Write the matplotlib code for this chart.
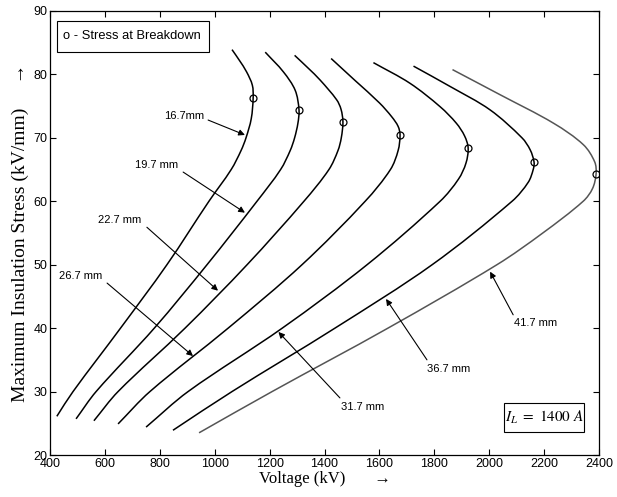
import numpy as np
import matplotlib
matplotlib.use('Agg')
import matplotlib.pyplot as plt
from matplotlib.path import Path
from matplotlib.patches import PathPatch, Rectangle

plt.rcParams['font.family'] = ['Liberation Sans', 'DejaVu Sans']
plt.rcParams['mathtext.fontset'] = 'stix'

# gap widths of the seven curves
gaps = ['16.7mm', '19.7 mm', '22.7 mm', '26.7 mm', '31.7 mm', '36.7 mm', '41.7 mm']

# voltage (kV) / max stress (kV/mm) along each curve, bottom to top
v1 = [425, 484, 657, 826, 979, 1060, 1096, 1114, 1133, 1140, 1137, 1116, 1090, 1063]
s1 = [26.1, 30, 40, 50, 60, 65, 68, 70, 73, 76.3, 78.3, 80.4, 82.2, 83.9]

v2 = [495, 568, 780, 972, 1154, 1240, 1275, 1291, 1303, 1307, 1293, 1250, 1184]
s2 = [25.7, 30, 40, 50, 60, 65, 68, 70, 72.3, 74.4, 77.5, 80.4, 83.5]

v3 = [560, 648, 892, 1118, 1325, 1416, 1449, 1461, 1467, 1460, 1444, 1384, 1340, 1291]
s3 = [25.4, 30, 40, 50, 60, 65, 68, 70, 72.5, 74.5, 76.0, 79.1, 81.0, 83.0]

v4 = [648, 764, 1049, 1318, 1548, 1640, 1668, 1675, 1668, 1645, 1600, 1512, 1424]
s4 = [24.9, 30, 40, 50, 60, 65, 68, 70.45, 71.8, 73.3, 75.5, 79.0, 82.5]

v5 = [750, 903, 1246, 1555, 1821, 1888, 1915, 1923, 1910, 1880, 1821, 1711, 1578]
s5 = [24.4, 30, 40, 50, 60, 63.5, 66, 68.4, 70.3, 72.3, 74.9, 78.6, 81.85]

v6 = [848, 1063, 1438, 1792, 2083, 2142, 2160, 2163, 2149, 2119, 2003, 1857, 1724]
s6 = [23.9, 30, 40, 50, 60, 63, 65, 66.2, 68.1, 70, 74.4, 78.1, 81.3]

v7 = [943, 1209, 1631, 2028, 2195, 2342, 2376, 2389, 2384, 2343, 2234, 2039, 1866]
s7 = [23.5, 30, 40, 50, 55, 60, 62, 64.3, 66.2, 68.9, 72.3, 76.8, 80.75]

# stress at breakdown
bd_v = [1140, 1307, 1467, 1675, 1923, 2163, 2389]
bd_s = [76.3, 74.4, 72.5, 70.45, 68.4, 66.2, 64.3]

# label text position, arrow tail, arrow tip
label_xy = [(890, 73.4), (790, 65.7), (655, 57.0), (510, 48.2),
            (1540, 27.6), (1853, 33.6), (2170, 40.8)]
tail_xy = [(976, 72.8), (885, 64.6), (753, 55.9), (608, 47.1),
           (1456, 29.0), (1773, 35.0), (2087, 42.1)]
tip_xy = [(1110, 70.45), (1110, 58.2), (1012, 45.9), (921, 35.6),
          (1232, 39.4), (1624, 44.6), (2003, 48.9)]

volts = [v1, v2, v3, v4, v5, v6, v7]
stress = [s1, s2, s3, s4, s5, s6, s7]
colors = ['black'] * 6 + ['#555555']

# rough pixels per data unit, so the spline spacing follows the drawn shape
SX, SY = 0.2745, 6.343


def smooth_path(xs, ys):
    # chord-length Hermite spline through the points, as cubic Bezier pieces
    p = np.column_stack([np.asarray(xs) * SX, np.asarray(ys) * SY]).astype(float)
    n = len(p)
    d = np.linalg.norm(np.diff(p, axis=0), axis=1)
    t = np.zeros_like(p)
    t[0] = (p[1] - p[0]) / d[0]
    t[-1] = (p[-1] - p[-2]) / d[-1]
    for i in range(1, n - 1):
        t[i] = (p[i + 1] - p[i - 1]) / (d[i - 1] + d[i])
    verts = [p[0]]
    codes = [Path.MOVETO]
    for i in range(n - 1):
        verts += [p[i] + t[i] * d[i] / 3, p[i + 1] - t[i + 1] * d[i] / 3, p[i + 1]]
        codes += [Path.CURVE4] * 3
    verts = np.array(verts) / [SX, SY]
    return Path(verts, codes)


fig = plt.figure(figsize=(6.17, 4.97), dpi=100)
ax = fig.add_axes([0.081, 0.0845, 0.890, 0.8935])

for v, s, c in zip(volts, stress, colors):
    ax.add_patch(PathPatch(smooth_path(v, s), fill=False, ec=c, lw=1.1))

ax.plot(bd_v, bd_s, 'o', mfc='none', mec='black', ms=5, mew=0.9)

for name, lxy, txy, pxy in zip(gaps, label_xy, tail_xy, tip_xy):
    ax.annotate('', xy=pxy, xytext=txy,
                arrowprops=dict(arrowstyle='-|>', color='black', lw=0.8,
                                mutation_scale=9, shrinkA=0, shrinkB=0))
    ax.text(lxy[0], lxy[1], name, fontsize=8, ha='center', va='center')

# legend box, top left
ax.add_patch(Rectangle((0.0128, 0.9077), 0.2768, 0.0693, transform=ax.transAxes,
                       fc='white', ec='black', lw=0.8, zorder=3))
ax.text(0.0237, 0.9425, 'o - Stress at Breakdown', fontsize=9.3, va='center',
        transform=ax.transAxes, zorder=4)

# load current box, bottom right
ax.add_patch(Rectangle((0.827, 0.0518), 0.1457, 0.0652, transform=ax.transAxes,
                       fc='white', ec='black', lw=0.8, zorder=3))
ax.text(0.9, 0.0845, r'$I_L\mathit{\ =\ 1400\ A}$', fontsize=11,
        ha='center', va='center', transform=ax.transAxes, zorder=4)

ax.set_xlim(400, 2400)
ax.set_ylim(20, 90)
ax.set_xticks(range(400, 2401, 200))
ax.set_yticks(range(20, 91, 10))
ax.tick_params(direction='in', top=True, right=True, length=4, width=0.8,
               labelsize=9, pad=2)
for sp in ax.spines.values():
    sp.set_linewidth(0.9)

serif = ['Liberation Serif', 'DejaVu Serif']
ax.set_xlabel('Voltage (kV)       \u2192', family=serif, fontsize=12, labelpad=1)
ax.set_ylabel('Maximum Insulation Stress (kV/mm)     \u2192', family=serif,
              fontsize=14, labelpad=3)

fig.savefig('out.png', dpi=100)
